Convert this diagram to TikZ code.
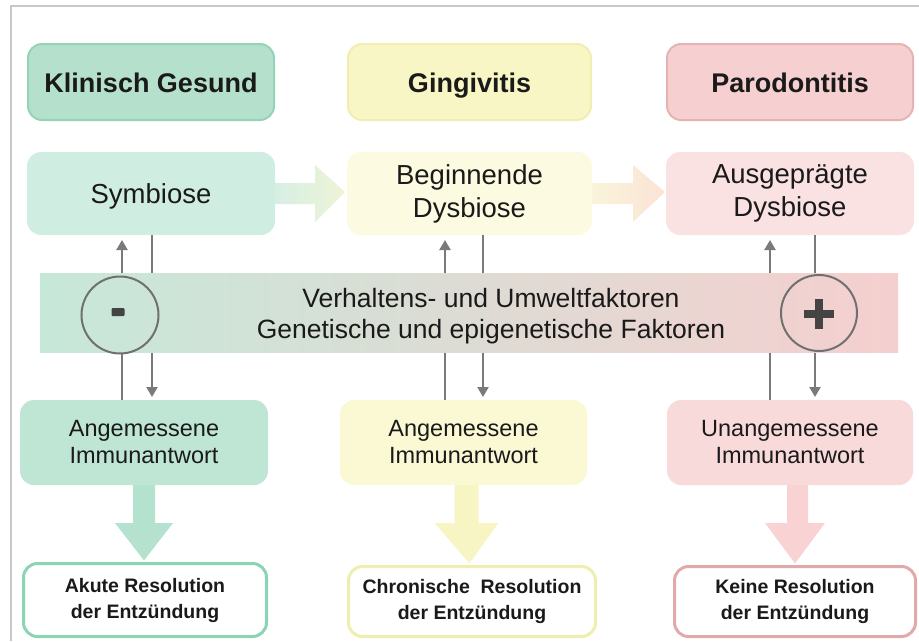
\documentclass[tikz,border=0pt]{standalone}
\usepackage{fontspec}
\setmainfont{Liberation Sans}
\usetikzlibrary{arrows.meta,calc}
\definecolor{txt}{HTML}{1A1A1A}
\definecolor{hGfill}{HTML}{B5E0CC}
\definecolor{hGdraw}{HTML}{94D3B8}
\definecolor{hYfill}{HTML}{F8F6C4}
\definecolor{hYdraw}{HTML}{F0EEB2}
\definecolor{hRfill}{HTML}{F6D0D0}
\definecolor{hRdraw}{HTML}{E6B3B3}
\definecolor{sG}{HTML}{D0EDE1}
\definecolor{sY}{HTML}{FCFAE0}
\definecolor{sR}{HTML}{FBE2E2}
\definecolor{iG}{HTML}{BFE5D5}
\definecolor{iY}{HTML}{FBF8D4}
\definecolor{iR}{HTML}{F9DADA}
\definecolor{rG}{HTML}{8CD4B6}
\definecolor{rY}{HTML}{EEEEB0}
\definecolor{rR}{HTML}{E2A9AB}
\definecolor{aG}{HTML}{B5E2CF}
\definecolor{aY}{HTML}{F7F5C4}
\definecolor{aR}{HTML}{F9D3D3}
\definecolor{h1a}{HTML}{D6EFE4}
\definecolor{h1b}{HTML}{EEF4D6}
\definecolor{h2a}{HTML}{F9F4DA}
\definecolor{h2b}{HTML}{FBE3D6}
\definecolor{bandL}{HTML}{C6E8D9}
\definecolor{bandM}{HTML}{E6E2D8}
\definecolor{bandR}{HTML}{F5CFCF}
\definecolor{agray}{HTML}{7A7A7A}
\definecolor{cgray}{HTML}{707070}
\definecolor{symgray}{HTML}{444444}
\definecolor{frame}{HTML}{C8C8C8}
\begin{document}
\begin{tikzpicture}[x=1pt,y=-1pt,
  every node/.style={inner sep=0pt,outer sep=0pt,text=txt},
  hdr/.style={draw,line width=2pt,rounded corners=14pt,minimum width=246pt,minimum height=76pt,text height=20pt,text depth=0pt,font=\fontsize{27}{33}\selectfont\bfseries},
  midbox/.style={rounded corners=14pt,minimum width=248pt,minimum height=83pt,align=center,font=\fontsize{27.5}{33}\selectfont},
  immbox/.style={rounded corners=14pt,minimum width=247pt,minimum height=85pt,align=center,font=\fontsize{23.5}{27}\selectfont},
  resbox/.style={draw,line width=3pt,fill=white,rounded corners=14pt,minimum width=243pt,minimum height=73pt,align=center,font=\fontsize{19.5}{26}\selectfont\bfseries},
  thinline/.style={draw=agray,line width=2.2pt},
  thinarrow/.style={thinline,-{Triangle[length=10pt,width=11pt]}},
  circ/.style={circle,draw=cgray,line width=2pt,minimum size=76pt}
]
\useasboundingbox (0,0) rectangle (919,641);
\draw[frame,line width=1.5pt] (11,641) -- (11,6) -- (919,6);

% headers
\node[hdr,fill=hGfill,draw=hGdraw] (h1) at (151,82) {Klinisch Gesund};
\node[hdr,fill=hYfill,draw=hYdraw,minimum width=243pt] (h2) at (469.5,82) {Gingivitis};
\node[hdr,fill=hRfill,draw=hRdraw] (h3) at (790,82) {Parodontitis};

% microbiome row
\node[midbox,fill=sG,text height=20pt,text depth=0pt] (s1) at (151,193.5) {Symbiose};
\node[midbox,fill=sY,minimum width=245pt] (s2) at (469.5,193.5) {Beginnende\\Dysbiose};
\node[midbox,fill=sR] (s3) at (790,193.5) {Ausgeprägte\\Dysbiose};

% immune row
\node[immbox,fill=iG,minimum width=248pt] (i1) at (144,442.5) {Angemessene\\Immunantwort};
\node[immbox,fill=iY] (i2) at (463.5,442.5) {Angemessene\\Immunantwort};
\node[immbox,fill=iR,minimum width=246pt] (i3) at (790,442.5) {Unangemessene\\Immunantwort};

% resolution row
\node[resbox,draw=rG] (r1) at (145,600) {Akute Resolution\\der Entzündung};
\node[resbox,draw=rY,minimum width=247pt,minimum height=70pt] (r2) at (472,601.5) {Chronische \ Resolution\\der Entzündung};
\node[resbox,draw=rR,minimum width=241pt,minimum height=70pt] (r3) at (795,601.5) {Keine Resolution\\der Entzündung};

% horizontal fat arrows
\shade[left color=h1a,right color=h1b]
  ([yshift=10.5pt]s1.east) -- ([xshift=40pt,yshift=10.5pt]s1.east) -- ([xshift=40pt,yshift=28.5pt]s1.east)
  -- ([xshift=-2pt,yshift=1.5pt]s2.west) -- ([xshift=40pt,yshift=-28.5pt]s1.east)
  -- ([xshift=40pt,yshift=-10.5pt]s1.east) -- ([yshift=-10.5pt]s1.east) -- cycle;
\shade[left color=h2a,right color=h2b]
  ([yshift=10.5pt]s2.east) -- ([xshift=41pt,yshift=10.5pt]s2.east) -- ([xshift=41pt,yshift=28.5pt]s2.east)
  -- ([xshift=-1pt,yshift=1.5pt]s3.west) -- ([xshift=41pt,yshift=-28.5pt]s2.east)
  -- ([xshift=41pt,yshift=-10.5pt]s2.east) -- ([yshift=-10.5pt]s2.east) -- cycle;

% vertical fat arrows
\fill[aG] ([xshift=-11pt]i1.south) -- ([xshift=-11pt,yshift=-38pt]i1.south) -- ([xshift=-29pt,yshift=-38pt]i1.south)
  -- ($(r1.north -| i1.south)+(0,-3)$) -- ([xshift=29pt,yshift=-38pt]i1.south) -- ([xshift=11pt,yshift=-38pt]i1.south)
  -- ([xshift=11pt]i1.south) -- cycle;
\fill[aY] ([xshift=-9pt]i2.south) -- ([xshift=-9pt,yshift=-38pt]i2.south) -- ([xshift=-29pt,yshift=-38pt]i2.south)
  -- ($(r2.north -| i2.south)+(6,-3)$) -- ([xshift=35pt,yshift=-38pt]i2.south) -- ([xshift=15pt,yshift=-38pt]i2.south)
  -- ([xshift=15pt]i2.south) -- cycle;
\fill[aR] ([xshift=-3pt]i3.south) -- ([xshift=-3pt,yshift=-38pt]i3.south) -- ([xshift=-25pt,yshift=-38pt]i3.south)
  -- ($(r3.north -| i3.south)+(5,-3)$) -- ([xshift=35pt,yshift=-38pt]i3.south) -- ([xshift=18pt,yshift=-38pt]i3.south)
  -- ([xshift=18pt]i3.south) -- cycle;

% thin arrows (pass behind the band)
\draw[thinarrow,shorten >=5pt] ([xshift=-22pt]i1.north) -- ([xshift=-29pt]s1.south);
\draw[thinarrow,shorten >=3pt] ([xshift=1pt]s1.south) -- ([xshift=8pt]i1.north);
\draw[thinarrow,shorten >=5pt] ([xshift=-18.5pt]i2.north) -- ([xshift=-24.5pt]s2.south);
\draw[thinarrow,shorten >=3pt] ([xshift=13.5pt]s2.south) -- ([xshift=19.5pt]i2.north);
\draw[thinarrow,shorten >=5pt] ([xshift=-20pt]i3.north) -- ([xshift=-20pt]s3.south);
\draw[thinarrow,shorten >=3pt] ([xshift=25pt]s3.south) -- ([xshift=25pt]i3.north);

% factor band
\node[minimum width=858pt,minimum height=79pt,left color=bandL,middle color=bandM,right color=bandR] (band) at (469,312.5) {};
\node[align=center,font=\fontsize{26.5}{31}\selectfont] (factors) at (491,316) {Verhaltens- und Umweltfaktoren\\Genetische und epigenetische Faktoren};

% minus / plus circles
\node[circ,minimum size=77pt] (minus) at (120,315) {};
\fill[symgray,rounded corners=1pt] ([xshift=-8.5pt,yshift=7pt]minus.center) rectangle ([xshift=4.5pt,yshift=-1pt]minus.center);
\node[circ] (plus) at (819,313) {};
\draw[symgray,line width=7.5pt] ([xshift=-15pt,yshift=-1pt]plus.center) -- ([xshift=15pt,yshift=-1pt]plus.center);
\draw[symgray,line width=7.5pt] ([xshift=0pt,yshift=14pt]plus.center) -- ([xshift=0pt,yshift=-16pt]plus.center);
\end{tikzpicture}
\end{document}
